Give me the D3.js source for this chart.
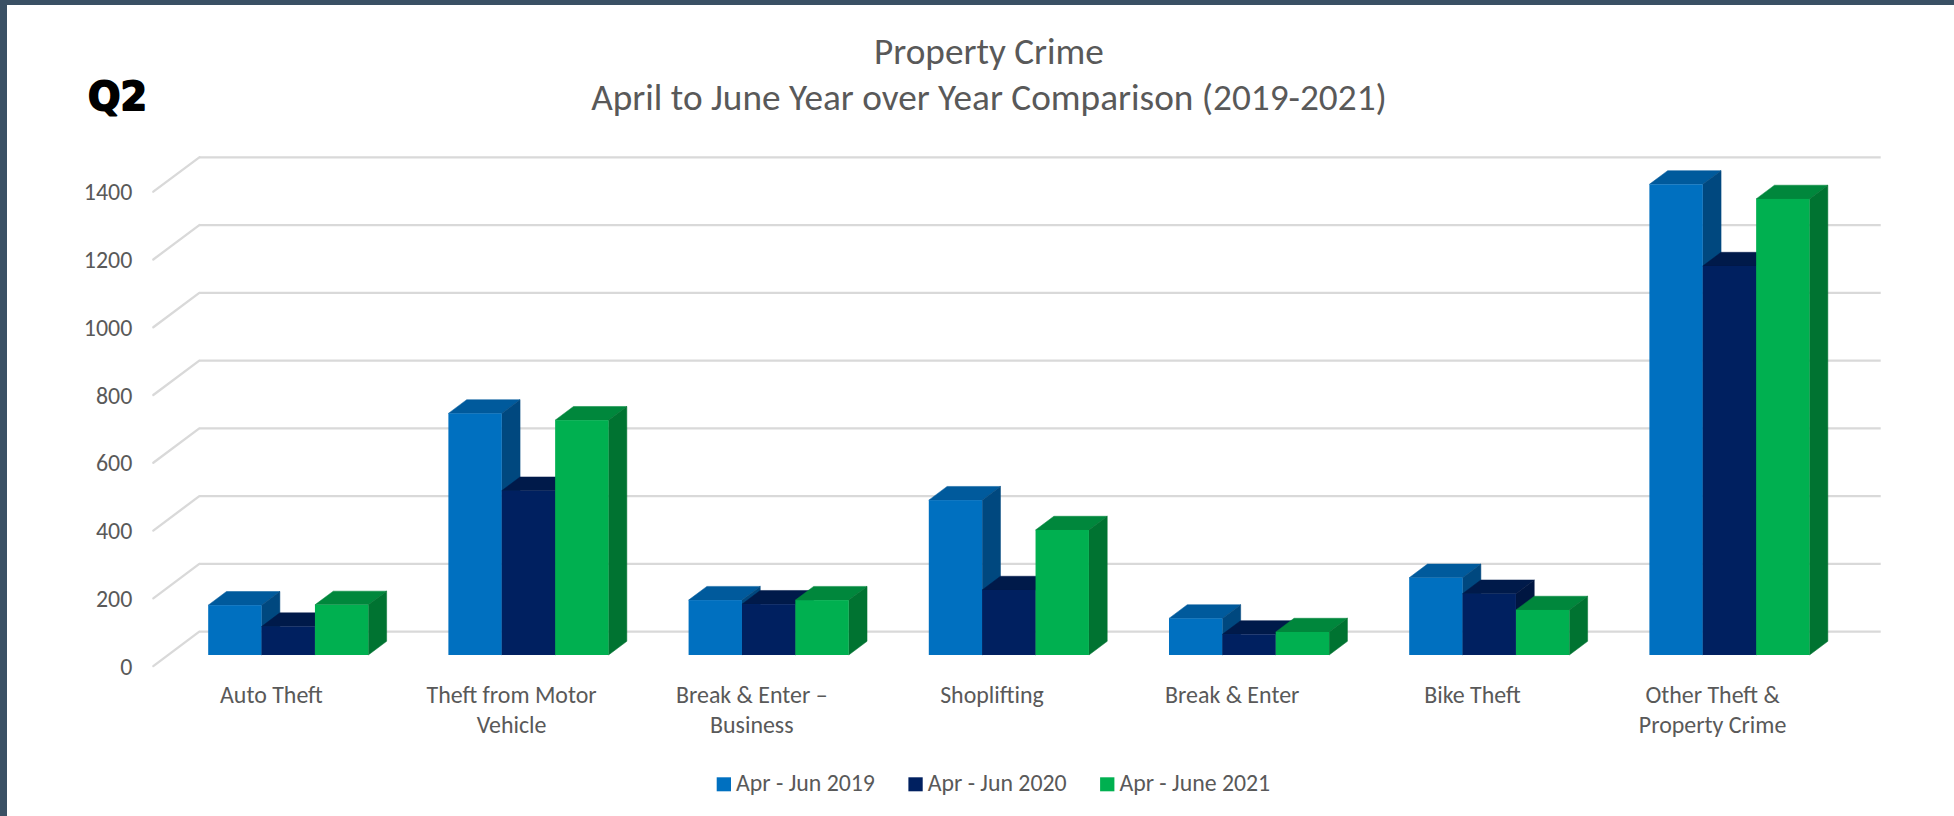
<!DOCTYPE html>
<html>
<head>
<meta charset="utf-8">
<script src="https://cdn.jsdelivr.net/npm/d3@7"></script>
<style>
  html, body { margin: 0; padding: 0; background: #ffffff; }
  svg { display: block; }
</style>
</head>
<body>
<svg id="chart" width="1954" height="816"></svg>
<script>
// ---------------- data ----------------
const categories = [
  "Auto Theft",
  "Theft from Motor Vehicle",
  "Break & Enter – Business",
  "Shoplifting",
  "Break & Enter",
  "Bike Theft",
  "Other Theft & Property Crime"
];
const categoryLines = [
  ["Auto Theft"],
  ["Theft from Motor", "Vehicle"],
  ["Break & Enter –", "Business"],
  ["Shoplifting"],
  ["Break & Enter"],
  ["Bike Theft"],
  ["Other Theft &", "Property Crime"]
];
const seriesNames = ["Apr - Jun 2019", "Apr - Jun 2020", "Apr - June 2021"];
const values2019 = [147, 713, 162, 457, 108, 228, 1389];
const values2020 = [84, 485, 150, 192, 61, 181, 1148];
const values2021 = [148, 693, 162, 369, 68, 133, 1346];
const yTicks = [0, 200, 400, 600, 800, 1000, 1200, 1400];
const titleLines = ["Property Crime", "April to June Year over Year Comparison (2019-2021)"];
const cornerLabel = "Q2";

// ---------------- styles ----------------
const frontColors = ["#0070c0", "#002060", "#00b050"];
const topColors   = ["#005a9c", "#001a4a", "#00873c"];
const sideColors  = ["#00487f", "#001641", "#007331"];
const textColor = "#595959";
const gridColor = "#d9d9d9";
const FONT = "Carlito, Lato, 'Open Sans', sans-serif";

const svg = d3.select("#chart");

// frame border
svg.append("rect").attr("x", 0).attr("y", 0).attr("width", 1954).attr("height", 816).attr("fill", "#ffffff");
svg.append("rect").attr("x", 0).attr("y", 0).attr("width", 1954).attr("height", 5).attr("fill", "#3a5064");
svg.append("rect").attr("x", 0).attr("y", 0).attr("width", 7).attr("height", 816).attr("fill", "#3a5064");

// helper: find font size giving a target width
function fitSize(text, targetW, family, weight) {
  const t = svg.append("text").attr("font-family", family).attr("font-weight", weight || "normal")
    .attr("font-size", 100).text(text);
  const w = t.node().getComputedTextLength();
  t.remove();
  return 100 * targetW / w;
}

// ---------------- geometry ----------------
const backX0 = 199.3, backX1 = 1880.7;
const floorDX = -46, floorDY = 34.4;          // back wall -> front floor edge
const barFrontDepth = 0.677, barBackDepth = 0.279;

const x = d3.scaleBand().domain(categories).range([backX0, backX1]).paddingInner(0).paddingOuter(0);
const groupW = x.bandwidth() * 3 / 4.5;        // gap width 150%
const xs = d3.scaleBand().domain(seriesNames).range([0, groupW]);
const y = d3.scaleLinear().domain([0, 1400]).range([631.7, 157.3]);

const allSeries = [values2019, values2020, values2021];

// ---------------- gridlines ----------------
const grid = svg.append("g");
yTicks.forEach(v => {
  grid.append("line")
    .attr("x1", backX0).attr("x2", backX1)
    .attr("y1", y(v)).attr("y2", y(v))
    .attr("stroke", gridColor).attr("stroke-width", 2.3);
  grid.append("line")
    .attr("x1", backX0).attr("y1", y(v))
    .attr("x2", backX0 + floorDX).attr("y2", y(v) + floorDY)
    .attr("stroke", gridColor).attr("stroke-width", 2.3).attr("stroke-linecap", "round");
});

// ---------------- axis labels ----------------
const labelSize = (fitSize("Auto Theft", 103, FONT) + fitSize("Theft from Motor", 170, FONT)) / 2;
const yAxisG = svg.append("g");
yTicks.forEach(v => {
  yAxisG.append("text")
    .attr("x", 132.3)
    .attr("y", y(v) + floorDY + labelSize * 0.36)
    .attr("text-anchor", "end")
    .attr("font-family", FONT).attr("font-size", labelSize)
    .attr("fill", textColor)
    .text(d3.format("d")(v));
});

// ---------------- bars ----------------
const fOffX = floorDX * barFrontDepth, fOffY = floorDY * barFrontDepth;
const bOffX = floorDX * barBackDepth, bOffY = floorDY * barBackDepth;
const ddx = bOffX - fOffX, ddy = bOffY - fOffY;
const pad = (x.bandwidth() - groupW) / 2;

const barsG = svg.append("g");
categories.forEach((cat, i) => {
  seriesNames.forEach((s, j) => {
    const v = allSeries[j][i];
    const x0 = x(cat) + pad + xs(s) + fOffX;
    const x1 = x0 + xs.bandwidth();
    const yT = y(v) + fOffY;
    const yB = y(0) + fOffY;
    const g = barsG.append("g");
    g.append("polygon")
      .attr("points", [[x0, yT], [x1, yT], [x1 + ddx, yT + ddy], [x0 + ddx, yT + ddy]].map(p => p.join(",")).join(" "))
      .attr("fill", topColors[j]).attr("stroke", topColors[j]).attr("stroke-width", 0.5);
    g.append("polygon")
      .attr("points", [[x1, yT], [x1 + ddx, yT + ddy], [x1 + ddx, yB + ddy], [x1, yB]].map(p => p.join(",")).join(" "))
      .attr("fill", sideColors[j]).attr("stroke", sideColors[j]).attr("stroke-width", 0.5);
    g.append("rect")
      .attr("x", x0).attr("y", yT)
      .attr("width", x1 - x0).attr("height", yB - yT)
      .attr("fill", frontColors[j]);
  });
});

// ---------------- category labels ----------------
const catG = svg.append("g");
categories.forEach((cat, i) => {
  const cx = x(cat) + x.bandwidth() / 2 + floorDX - 2;
  const t = catG.append("text")
    .attr("text-anchor", "middle")
    .attr("font-family", FONT).attr("font-size", labelSize)
    .attr("fill", textColor);
  categoryLines[i].forEach((ln, k) => {
    t.append("tspan").attr("x", cx).attr("y", y(0) + floorDY + 37.3 + k * 30).text(ln);
  });
});

// ---------------- title ----------------
const titleSize = fitSize(titleLines[1], 796, FONT);
titleLines.forEach((ln, k) => {
  svg.append("text")
    .attr("x", 989).attr("y", 63.5 + k * 46)
    .attr("text-anchor", "middle")
    .attr("font-family", FONT).attr("font-size", titleSize)
    .attr("fill", textColor)
    .text(ln);
});

// corner label
const qSize = fitSize(cornerLabel, 59, "'DejaVu Sans'", "bold");
svg.append("text")
  .attr("x", 88).attr("y", 110)
  .attr("font-family", "'DejaVu Sans'").attr("font-weight", "bold")
  .attr("font-size", qSize).attr("fill", "#000000")
  .attr("stroke", "#000000").attr("stroke-width", 1.8).attr("stroke-linejoin", "round")
  .text(cornerLabel);

// ---------------- legend ----------------
const legSize = fitSize(seriesNames[0], 139, FONT);
const legG = svg.append("g");
seriesNames.forEach((s, j) => {
  const lx = 716.7 + j * 191.7;
  legG.append("rect").attr("x", lx).attr("y", 777.3).attr("width", 14.3).attr("height", 14)
    .attr("fill", frontColors[j]);
  legG.append("text").attr("x", lx + 19.3).attr("y", 790.7)
    .attr("font-family", FONT).attr("font-size", legSize).attr("fill", textColor)
    .text(s);
});
</script>
</body>
</html>
